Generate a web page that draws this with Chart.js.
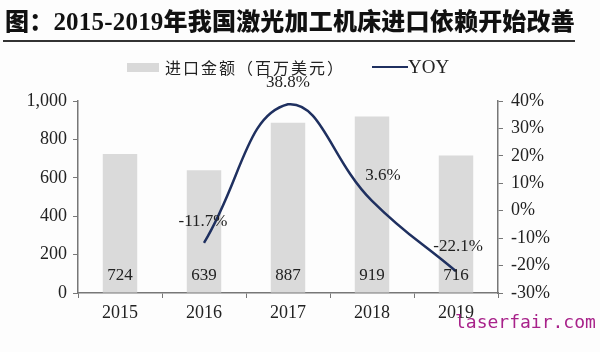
<!DOCTYPE html>
<html><head><meta charset="utf-8">
<script src="https://cdn.jsdelivr.net/npm/chart.js@4.4.1/dist/chart.umd.min.js"></script>
<style>
html,body{margin:0;padding:0;background:#fdfdfd;}
#wrap{position:relative;width:600px;height:352px;overflow:hidden;}
#title{position:absolute;left:5px;top:5px;font-family:"Noto Sans CJK SC";font-weight:900;font-size:24px;line-height:30px;color:#111;white-space:nowrap;letter-spacing:0.2px;}
#title .n{font-family:"Liberation Serif";font-weight:bold;font-size:25px;}
#rule{position:absolute;left:3px;top:40px;width:572px;height:2px;background:#333;}
#legend{position:absolute;top:55px;left:127px;height:22px;font-size:17px;color:#222;white-space:nowrap;}
#legend .box{position:absolute;left:0;top:8px;width:32px;height:9px;background:#d9d9d9;}
#legend .t1{position:absolute;left:38px;top:0;font-family:"Noto Sans CJK SC";font-size:16px;line-height:24px;letter-spacing:2px;}
#legend .ln{position:absolute;left:245px;top:11px;width:36px;height:2px;background:#1f3060;}
#legend .t2{position:absolute;left:281px;top:0;font-family:"Liberation Serif";font-size:19px;line-height:24px;}
#wm{position:absolute;left:455px;top:311px;font-family:"DejaVu Sans Mono";font-size:18px;color:#a8228a;}
canvas{position:absolute;left:0;top:0;}
</style></head>
<body><div id="wrap">
<canvas id="c" width="600" height="352"></canvas>
<div id="title">图：<span class="n">2015-2019</span>年我国激光加工机床进口依赖开始改善</div>
<div id="rule"></div>
<div id="legend"><div class="box"></div><div class="t1">进口金额（百万美元）</div><div class="ln"></div><div class="t2">YOY</div></div>
<div id="wm">laserfair.com</div>
</div>
<script>
const years = ['2015','2016','2017','2018','2019'];
const importValues = [724, 639, 887, 919, 716];
const yoyValues = [null, -11.7, 38.8, 3.6, -22.1];
const leftTicks = [0, 200, 400, 600, 800, 1000];
const rightTicks = [-30, -20, -10, 0, 10, 20, 30, 40];

const serif = 'Liberation Serif';
const yoyLabelOffsets = {1:{dx:-1,dy:-21},2:{dx:0,dy:-22},3:{dx:11,dy:-25},4:{dx:2,dy:-25}};

const labelPlugin = {
  id:'labels',
  afterDatasetsDraw(chart){
    const ctx = chart.ctx;
    ctx.save();
    ctx.font = '17px "' + serif + '"';
    ctx.fillStyle = '#222';
    ctx.textAlign = 'center';
    ctx.textBaseline = 'middle';
    const yL = chart.scales.y;
    chart.getDatasetMeta(1).data.forEach((el,i)=>{
      ctx.fillText(String(importValues[i]), el.x, yL.getPixelForValue(0) - 17);
    });
    chart.getDatasetMeta(0).data.forEach((el,i)=>{
      const v = yoyValues[i];
      if (v === null) return;
      const o = yoyLabelOffsets[i] || {dx:0,dy:-24};
      ctx.fillText(v.toFixed(1) + '%', el.x + o.dx, el.y + o.dy);
    });
    ctx.restore();
  }
};

new Chart(document.getElementById('c'), {
  data:{
    labels: years,
    datasets:[
      {type:'line', label:'YOY', data:yoyValues, yAxisID:'y1', borderColor:'#1f3060', borderWidth:2.5,
       pointRadius:0, tension:0.45, spanGaps:false, order:0},
      {type:'bar', label:'进口金额（百万美元）', data:importValues, yAxisID:'y', backgroundColor:'#dadada',
       categoryPercentage:1, barPercentage:0.41, order:1}
    ]
  },
  options:{
    responsive:false, animation:false,
    layout:{padding:{top:101, bottom:0, left:0, right:0}},
    plugins:{legend:{display:false}, tooltip:{enabled:false}},
    scales:{
      x:{
        offset:true,
        grid:{display:true, offset:true, drawOnChartArea:false, drawTicks:true, tickLength:5, color:'#777', tickColor:'#777'},
        border:{display:true, color:'#777', width:1.5},
        ticks:{font:{family:serif, size:18}, color:'#222', padding:4},
        afterFit(s){ s.height = 59; }
      },
      y:{
        position:'left', min:0, max:1000,
        afterBuildTicks(s){ s.ticks = leftTicks.map(v=>({value:v})); },
        grid:{display:true, drawOnChartArea:false, drawTicks:true, tickLength:5, color:'#777'},
        border:{display:true, color:'#777', width:1.5},
        ticks:{font:{family:serif, size:18}, color:'#222', padding:6,
          callback:v=>v.toLocaleString('en-US')},
        afterFit(s){ s.width = 78; }
      },
      y1:{
        position:'right', min:-30, max:40,
        afterBuildTicks(s){ s.ticks = rightTicks.map(v=>({value:v})); },
        grid:{display:true, drawOnChartArea:false, drawTicks:true, tickLength:5, color:'#777'},
        border:{display:true, color:'#777', width:1.5},
        ticks:{font:{family:serif, size:18}, color:'#222', padding:8, callback:v=>v+'%'},
        afterFit(s){ s.width = 102; }
      }
    }
  },
  plugins:[labelPlugin]
});
</script>
</body></html>
